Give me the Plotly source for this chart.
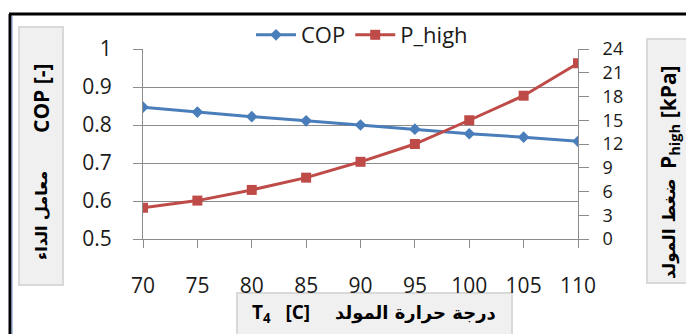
import plotly.graph_objects as go

# ---- data ----
t4 = [70, 75, 80, 85, 90, 95, 100, 105, 110]
cop = [0.847, 0.834, 0.822, 0.811, 0.800, 0.789, 0.777, 0.768, 0.757]
p_high = [3.95, 4.85, 6.2, 7.75, 9.75, 12.0, 15.0, 18.1, 22.2]
x_ticks = [70, 75, 80, 85, 90, 95, 100, 105, 110]
cop_ticks = [0.5, 0.6, 0.7, 0.8, 0.9, 1]
p_ticks = [0, 3, 6, 9, 12, 15, 18, 21, 24]

W, H = 694, 334
OFF = 8  # page body margin
L, R, T, B = 143 - OFF, 578 - OFF, 49 - OFF, 239 - OFF  # plot area in figure pixels


def px(x):
    x -= OFF
    return (x - L) / (R - L)


def py(y):
    y -= OFF
    return (B - y) / (B - T)


BLUE = "#4A7EBB"
RED = "#BE4B48"
GRID = "#8C8C8C"
TXT = "#1a1a1a"
FONT = "Open Sans"

fig = go.Figure()
fig.add_trace(go.Scatter(
    x=t4, y=cop, name="COP", mode="lines+markers",
    line=dict(color=BLUE, width=3),
    marker=dict(symbol="diamond", size=9, color=BLUE),
    yaxis="y"))
fig.add_trace(go.Scatter(
    x=t4, y=p_high, name="P_high", mode="lines+markers",
    line=dict(color=RED, width=3),
    marker=dict(symbol="square", size=10, color=RED),
    yaxis="y2"))

fig.update_layout(
    width=W, height=H, autosize=False,
    margin=dict(l=L, r=W - R, t=T, b=H - B, pad=0, autoexpand=False),
    paper_bgcolor="white", plot_bgcolor="white",
    font=dict(family=FONT, size=21, color=TXT),
    hovermode=False,
    showlegend=True,
    legend=dict(orientation="h", xref="container", yref="container",
                x=(362 - OFF) / W, xanchor="center",
                y=1 - (35 - OFF) / H, yanchor="middle",
                font=dict(size=22, color=TXT), itemwidth=40,
                bgcolor="rgba(0,0,0,0)", tracegroupgap=0),
    xaxis=dict(range=[70, 110], tickvals=x_ticks, ticktext=[str(v) for v in x_ticks],
               showgrid=False, zeroline=False, showline=True, linecolor=GRID,
               linewidth=1, ticks="outside", ticklen=8, tickcolor=GRID,
               ticklabelstandoff=20, tickfont=dict(size=21)),
    yaxis=dict(range=[0.5, 1.0], tickvals=cop_ticks,
               ticktext=["0.5", "0.6", "0.7", "0.8", "0.9", "1"],
               showgrid=True, gridcolor=GRID, gridwidth=1, zeroline=False,
               showline=True, linecolor=GRID, linewidth=1,
               ticks="outside", ticklen=9, tickcolor=GRID,
               ticklabelstandoff=17, tickfont=dict(size=21)),
    yaxis2=dict(range=[0, 24], tickvals=p_ticks, overlaying="y", side="right",
                showgrid=False, zeroline=False, showline=True, linecolor=GRID,
                linewidth=1, ticks="outside", ticklen=10, tickcolor=GRID,
                ticklabelstandoff=10,
                tickfont=dict(family="Liberation Sans Narrow, Open Sans", size=18)),
)

shapes = []
# outer frame (top and left edges)
shapes.append(dict(type="line", xref="paper", yref="paper",
                   x0=px(9), x1=px(720), y0=py(14), y1=py(14),
                   line=dict(color="black", width=3)))
shapes.append(dict(type="line", xref="paper", yref="paper",
                   x0=px(10), x1=px(10), y0=py(14), y1=py(360),
                   line=dict(color="black", width=3)))
shapes.append(dict(type="line", xref="paper", yref="paper",
                   x0=px(12), x1=px(12), y0=py(16), y1=py(360),
                   line=dict(color="#6f8cc0", width=1)))
# axis title boxes
for (x0, x1, y0, y1) in [(19, 63, 27, 285), (647, 691, 39, 283), (237, 512, 293, 360)]:
    shapes.append(dict(type="rect", xref="paper", yref="paper",
                       x0=px(x0), x1=px(x1), y0=py(y1), y1=py(y0),
                       fillcolor="#F0F0F0", line=dict(color="#D9D9D9", width=2),
                       layer="below"))
fig.update_layout(shapes=shapes)

ann = []


def add(text, x, y, angle=0, fam=FONT, size=19):
    ann.append(dict(text=text, xref="paper", yref="paper", x=px(x), y=py(y),
                    xanchor="center", yanchor="middle", showarrow=False,
                    textangle=angle, font=dict(family=fam, size=size, color="black")))


add("<b>COP [-]</b>", 41, 99, -90, FONT, 21)
add("<b>معامل الداء</b>", 41, 216, -90, "DejaVu Sans", 16)
add("<b>P<sub>high</sub> [kPa]</b>", 669, 117, -90, FONT, 21)
add("<b>ضغط المولد</b>", 669, 229, -90, "DejaVu Sans", 17)
add("<b>T<sub>4</sub>   [C]</b>", 281, 313, 0)
add("<b>درجة حرارة المولد</b>", 415, 313, 0, "DejaVu Sans", 18)
fig.update_layout(annotations=ann)

fig.write_html("out.html")
